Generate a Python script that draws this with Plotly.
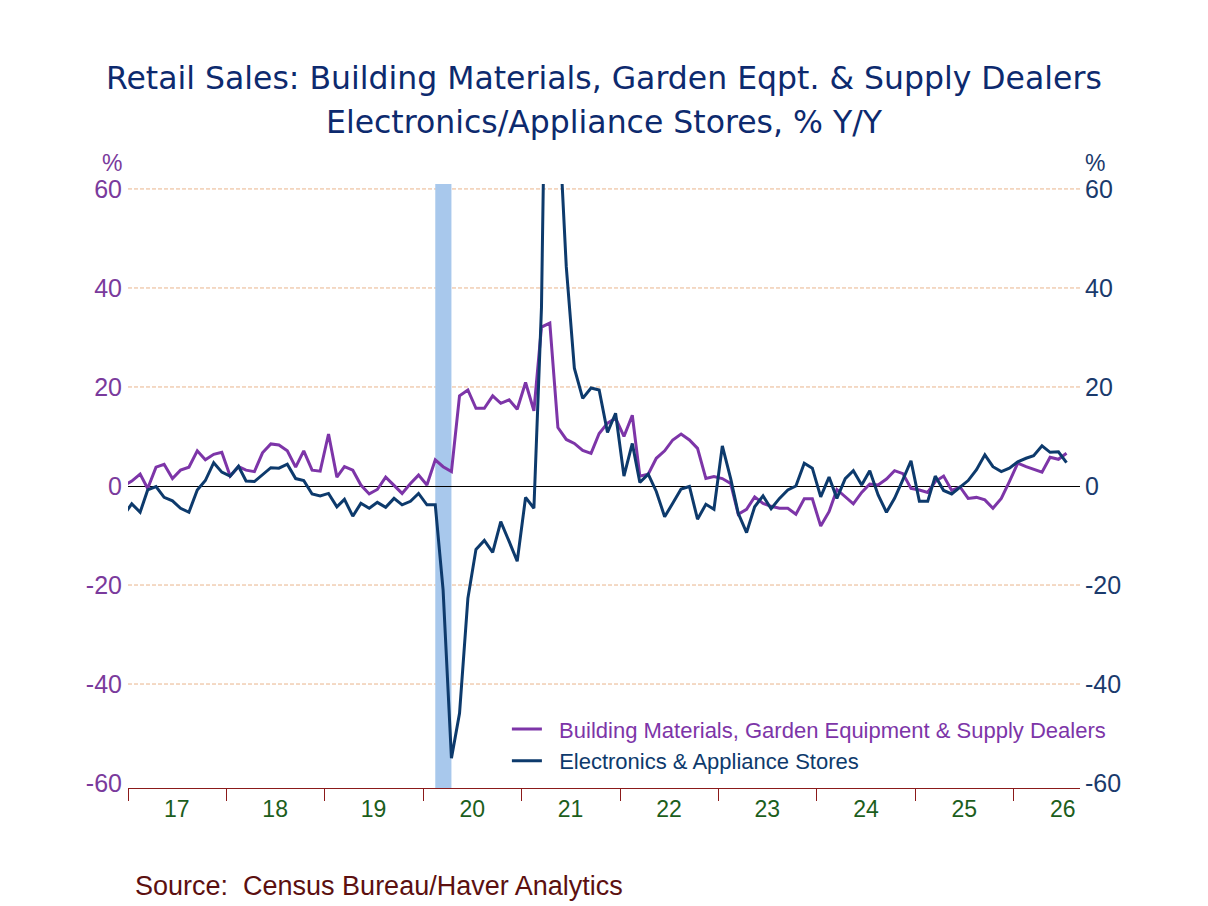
import pandas as pd
import plotly.graph_objects as go

# Monthly observations Dec 2016 .. Jul 2026 (plotted mid-month)
months = pd.date_range("2016-12-01", periods=116, freq="MS") + pd.Timedelta(days=14)

building = [
    0.0, 1.0, 2.4, -0.5, 3.8, 4.4, 1.5, 3.2, 3.8, 7.1, 5.3, 6.4, 6.8,
    2.0, 3.9, 3.2, 2.9, 6.7, 8.5, 8.3, 7.1, 3.8, 7.1, 3.2, 3.0,
    10.5, 1.8, 3.9, 3.2, 0.2, -1.6, -0.7, 1.8, 0.2, -1.5, 0.5, 2.2,
    0.2, 5.3, 3.9, 2.9, 18.2, 19.4, 15.7, 15.7, 18.2, 16.7, 17.4, 15.5,
    20.9, 15.2, 32.1, 32.9, 11.8, 9.4, 8.6, 7.2, 6.6, 10.6, 12.7, 13.7,
    10.0, 14.3, 2.0, 2.4, 5.6, 7.1, 9.3, 10.5, 9.3, 7.6, 1.5, 1.9,
    1.5, 0.5, -5.7, -4.7, -2.2, -3.5, -4.1, -4.5, -4.5, -5.7, -2.6, -2.6,
    -8.1, -5.2, -0.7, -2.2, -3.6, -1.3, 0.4, 0.2, 1.4, 3.1, 2.5, -0.5,
    -0.8, -1.3, 0.9, 2.0, -0.9, -0.2, -2.5, -2.3, -2.8, -4.5, -2.5, 0.9,
    4.6, 3.9, 3.4, 2.8, 5.8, 5.4, 6.6,
]

electronics = [
    -6.0, -3.6, -5.3, -0.8, -0.1, -2.3, -3.0, -4.5, -5.3, -0.8, 1.1, 4.7, 2.8,
    2.0, 4.0, 1.0, 0.9, 2.2, 3.7, 3.6, 4.4, 1.5, 1.1, -1.6, -2.0,
    -1.5, -4.2, -2.7, -6.1, -3.5, -4.5, -3.3, -4.3, -2.5, -3.8, -3.1, -1.5,
    -3.8, -3.8, -21.0, -55.0, -45.9, -22.7, -12.8, -11.0, -13.4, -7.2, -11.2, -15.2,
    -2.3, -4.5, 36.0, 150.0, 78.0, 44.3, 23.8, 17.7, 19.8, 19.4, 10.8, 14.7,
    2.0, 8.6, 0.7, 2.4, -1.1, -6.2, -3.5, -0.6, -0.1, -6.7, -3.7, -4.7,
    8.1, 1.5, -5.5, -9.4, -4.2, -2.0, -4.6, -2.5, -0.8, 0.0, 4.6, 3.6,
    -2.2, 1.8, -2.5, 1.5, 3.1, 0.2, 3.1, -1.8, -5.3, -2.5, 1.3, 5.1,
    -3.1, -3.1, 2.0, -0.9, -1.6, -0.2, 1.1, 3.3, 6.3, 3.9, 2.9, 3.6,
    4.9, 5.6, 6.1, 8.1, 6.8, 6.9, 4.7,
]

year_labels = ["17", "18", "19", "20", "21", "22", "23", "24", "25", "26"]
label_pos = [f"20{y}-07-01" for y in year_labels]
year_bounds = [f"20{y}-01-01" for y in year_labels]
y_ticks = [-60, -40, -20, 0, 20, 40, 60]
y_ticktext = ["-60", "-40", "-20", "0", "20", "40", "60"]
grid_vals = [-40, -20, 20, 40, 60]
recession = ("2020-02-15", "2020-04-15")

PURPLE = "#7d35a8"
NAVY = "#0d3a6c"
LEFT_LBL = "#7a3a9c"
RIGHT_LBL = "#1a3a6c"

fig = go.Figure()
fig.add_trace(go.Scatter(
    x=months, y=building, mode="lines",
    name="\u00a0\u00a0Building Materials, Garden Equipment & Supply Dealers",
    line=dict(color=PURPLE, width=3), yaxis="y",
))
fig.add_trace(go.Scatter(
    x=months, y=electronics, mode="lines",
    name="\u00a0\u00a0<span style='color:%s'>Electronics & Appliance Stores</span>" % NAVY,
    line=dict(color=NAVY, width=3), yaxis="y2",
))

# dashed horizontal gridlines (none at -60 / 0)
for gv in grid_vals:
    fig.add_shape(type="line", xref="paper", yref="y", x0=0, x1=1, y0=gv, y1=gv,
                  line=dict(color="#e9b48c", width=1, dash="4px,2px"), layer="below")

fig.add_shape(type="rect", xref="x", yref="paper",
              x0=recession[0], x1=recession[1], y0=0, y1=1,
              fillcolor="#a8c8ec", line_width=0, layer="below")

fig.update_layout(
    width=1208, height=906,
    paper_bgcolor="white", plot_bgcolor="white",
    margin=dict(l=120, r=136, t=176, b=126),
    showlegend=True,
    legend=dict(x=0.398, y=0.132, xanchor="left", yanchor="top",
                bgcolor="rgba(0,0,0,0)", tracegroupgap=0,
                font=dict(family="Liberation Sans, Arial", size=22, color=PURPLE)),
    xaxis=dict(
        type="date", range=["2017-01-01", "2026-09-03"],
        tickmode="array", tickvals=label_pos, ticktext=year_labels,
        ticks="", showgrid=False, zeroline=False,
        showline=True, linecolor="#8b1a1a", linewidth=1.2,
        tickfont=dict(family="Liberation Sans, Arial", size=23, color="#1c5e1c"),
        minor=dict(tickmode="array", tickvals=year_bounds, ticks="outside",
                   ticklen=12, tickcolor="#8b1a1a", tickwidth=1.2, showgrid=False),
    ),
    yaxis=dict(
        range=[-61, 61], tickmode="array", tickvals=y_ticks, ticktext=y_ticktext,
        showgrid=False,
        zeroline=True, zerolinecolor="black", zerolinewidth=1.2,
        showline=False, ticks="", ticklabelstandoff=5,
        tickfont=dict(family="Liberation Sans, Arial", size=25, color=LEFT_LBL),
    ),
    yaxis2=dict(
        range=[-61, 61], tickmode="array", tickvals=y_ticks, ticktext=y_ticktext,
        overlaying="y", side="right", showgrid=False, zeroline=False,
        showline=False, ticks="", ticklabelstandoff=4,
        tickfont=dict(family="Liberation Sans, Arial", size=25, color=RIGHT_LBL),
    ),
)

title_font = dict(family="DejaVu Sans, Verdana", size=31.5, color="#0d2a6e")
fig.add_annotation(text="Retail Sales: Building Materials, Garden Eqpt. & Supply Dealers",
                   xref="paper", yref="paper", x=0.5, y=1.1755, xanchor="center",
                   yanchor="middle", showarrow=False, font=title_font)
fig.add_annotation(text="Electronics/Appliance Stores, % Y/Y",
                   xref="paper", yref="paper", x=0.5, y=1.1026, xanchor="center",
                   yanchor="middle", showarrow=False, font=title_font)
fig.add_annotation(text="%", xref="paper", yref="paper", x=-0.0168, y=1.035,
                   xanchor="center", yanchor="middle", showarrow=False,
                   font=dict(family="Liberation Sans, Arial", size=23, color=LEFT_LBL))
fig.add_annotation(text="%", xref="paper", yref="paper", x=1.0158, y=1.035,
                   xanchor="center", yanchor="middle", showarrow=False,
                   font=dict(family="Liberation Sans, Arial", size=23, color=RIGHT_LBL))
fig.add_annotation(text="Source:\u00a0\u00a0Census Bureau/Haver Analytics",
                   xref="paper", yref="paper", x=0.005, y=-0.162,
                   xanchor="left", yanchor="middle", showarrow=False,
                   font=dict(family="Liberation Sans, Arial", size=27, color="#5c1010"))

fig.write_html("out.html")
